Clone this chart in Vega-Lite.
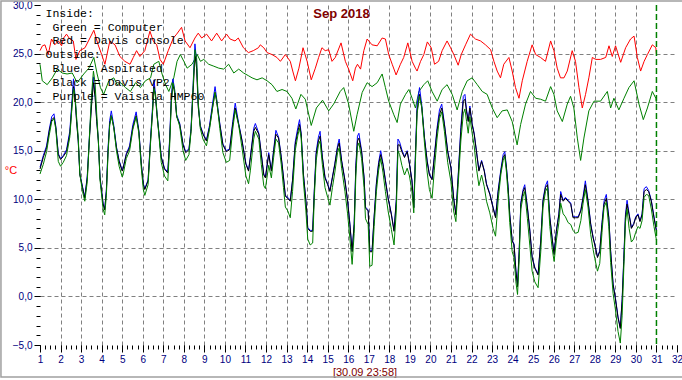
{
"$schema": "https://vega.github.io/schema/vega-lite/v6.json",
"width": 637, "height": 340,
"autosize": "none",
"padding": {"left": 40, "top": 5, "right": 5, "bottom": 35},
"background": "white",
"config": {"view": {"stroke": null}, "axis": {"labelFont": "Liberation Sans", "titleFont": "Liberation Sans"}},
"datasets": {
"out": [
{"d":1.00,"k":13.1,"b":13.3,"g":12.6},{"d":1.16,"k":14.3,"b":14.5,"g":13.6},{"d":1.32,"k":15.3,"b":15.5,"g":14.9},{"d":1.45,"k":17.0,"b":17.2,"g":16.6},{"d":1.57,"k":18.2,"b":18.5,"g":18.0},{"d":1.68,"k":18.4,"b":18.8,"g":18.3},{"d":1.77,"k":17.4,"b":17.5,"g":17.2},{"d":1.89,"k":14.6,"b":14.7,"g":13.9},{"d":2.00,"k":14.1,"b":14.2,"g":13.4},{"d":2.13,"k":14.4,"b":14.5,"g":13.8},{"d":2.29,"k":14.9,"b":15.1,"g":14.5},{"d":2.45,"k":16.7,"b":17.0,"g":16.4},{"d":2.55,"k":19.5,"b":20.0,"g":19.3},{"d":2.63,"k":21.6,"b":22.4,"g":21.4},{"d":2.70,"k":20.5,"b":20.8,"g":20.8},{"d":2.78,"k":18.0,"b":18.2,"g":18.5},{"d":2.86,"k":16.0,"b":16.1,"g":16.4},{"d":2.94,"k":12.5,"b":12.6,"g":12.6},
{"d":3.07,"k":11.2,"b":11.3,"g":10.8},{"d":3.18,"k":10.1,"b":10.2,"g":9.8},{"d":3.30,"k":12.2,"b":12.4,"g":11.8},{"d":3.40,"k":16.0,"b":16.3,"g":16.2},{"d":3.50,"k":19.4,"b":19.8,"g":20.5},{"d":3.60,"k":22.0,"b":22.6,"g":23.2},{"d":3.68,"k":20.5,"b":20.8,"g":22.0},{"d":3.76,"k":18.0,"b":18.2,"g":18.8},{"d":3.84,"k":16.0,"b":16.1,"g":16.0},{"d":3.92,"k":12.2,"b":12.3,"g":12.0},{"d":4.07,"k":9.5,"b":9.6,"g":9.0},{"d":4.15,"k":8.9,"b":9.0,"g":8.4},{"d":4.23,"k":10.8,"b":11.0,"g":10.4},{"d":4.31,"k":14.9,"b":15.2,"g":14.6},{"d":4.39,"k":17.7,"b":18.1,"g":17.6},{"d":4.47,"k":18.6,"b":19.1,"g":18.6},{"d":4.59,"k":17.4,"b":17.6,"g":17.4},{"d":4.72,"k":15.3,"b":15.4,"g":15.0},{"d":4.85,"k":13.9,"b":14.0,"g":13.4},
{"d":5.00,"k":12.9,"b":13.0,"g":12.3},{"d":5.04,"k":13.1,"b":13.2,"g":12.5},{"d":5.20,"k":14.6,"b":14.7,"g":14.2},{"d":5.36,"k":15.3,"b":15.5,"g":15.0},{"d":5.52,"k":17.4,"b":17.7,"g":17.2},{"d":5.68,"k":18.6,"b":19.0,"g":18.5},{"d":5.81,"k":17.0,"b":17.1,"g":16.8},{"d":5.93,"k":13.6,"b":13.7,"g":13.2},{"d":6.03,"k":11.5,"b":11.6,"g":11.0},{"d":6.10,"k":11.0,"b":11.1,"g":10.4},{"d":6.26,"k":11.9,"b":12.0,"g":11.5},{"d":6.38,"k":16.0,"b":16.3,"g":15.8},{"d":6.48,"k":19.1,"b":19.6,"g":19.2},{"d":6.55,"k":21.6,"b":22.3,"g":21.4},{"d":6.62,"k":20.5,"b":20.8,"g":20.8},{"d":6.70,"k":18.5,"b":18.7,"g":18.7},{"d":6.79,"k":16.7,"b":16.8,"g":16.5},{"d":6.90,"k":14.3,"b":14.4,"g":13.8},
{"d":7.06,"k":13.1,"b":13.2,"g":12.4},{"d":7.22,"k":12.7,"b":12.8,"g":11.9},{"d":7.31,"k":16.0,"b":16.3,"g":15.5},{"d":7.39,"k":20.1,"b":20.6,"g":20.0},{"d":7.47,"k":21.8,"b":22.4,"g":22.0},{"d":7.55,"k":21.0,"b":21.3,"g":21.3},{"d":7.65,"k":18.5,"b":18.7,"g":18.6},{"d":7.80,"k":17.7,"b":17.8,"g":17.5},{"d":7.96,"k":15.6,"b":15.7,"g":15.0},{"d":8.09,"k":14.8,"b":14.9,"g":14.0},{"d":8.25,"k":15.1,"b":15.2,"g":14.6},{"d":8.35,"k":17.0,"b":17.3,"g":17.0},{"d":8.45,"k":21.0,"b":21.7,"g":21.5},{"d":8.54,"k":24.8,"b":26.0,"g":25.4},{"d":8.62,"k":23.5,"b":24.2,"g":24.6},{"d":8.70,"k":19.5,"b":19.8,"g":20.0},{"d":8.80,"k":17.5,"b":17.6,"g":17.3},{"d":8.93,"k":16.7,"b":16.8,"g":16.2},
{"d":9.10,"k":16.0,"b":16.1,"g":15.5},{"d":9.25,"k":17.4,"b":17.6,"g":17.2},{"d":9.40,"k":19.5,"b":19.9,"g":19.4},{"d":9.52,"k":21.0,"b":21.6,"g":21.0},{"d":9.60,"k":20.0,"b":20.3,"g":20.2},{"d":9.75,"k":17.7,"b":17.8,"g":17.3},{"d":9.90,"k":15.6,"b":15.7,"g":14.8},{"d":10.07,"k":14.9,"b":15.0,"g":13.8},{"d":10.23,"k":15.1,"b":15.2,"g":14.0},{"d":10.38,"k":17.7,"b":18.0,"g":17.2},{"d":10.50,"k":19.4,"b":19.9,"g":19.2},{"d":10.67,"k":17.7,"b":17.8,"g":17.6},{"d":10.83,"k":16.0,"b":16.1,"g":15.3},
{"d":11.02,"k":13.6,"b":13.7,"g":12.4},{"d":11.15,"k":12.9,"b":13.0,"g":11.6},{"d":11.24,"k":14.3,"b":14.4,"g":13.0},{"d":11.40,"k":17.0,"b":17.3,"g":16.2},{"d":11.48,"k":17.4,"b":17.8,"g":17.0},{"d":11.65,"k":16.7,"b":16.8,"g":16.2},{"d":11.77,"k":14.6,"b":14.7,"g":13.6},{"d":11.89,"k":12.5,"b":12.6,"g":11.4},{"d":11.97,"k":12.2,"b":12.3,"g":11.1},{"d":12.13,"k":14.6,"b":14.8,"g":13.5},{"d":12.26,"k":12.9,"b":13.0,"g":12.2},{"d":12.37,"k":14.9,"b":15.1,"g":14.3},{"d":12.48,"k":16.7,"b":17.1,"g":16.2},{"d":12.61,"k":16.3,"b":16.4,"g":15.8},{"d":12.74,"k":14.3,"b":14.4,"g":13.6},{"d":12.85,"k":12.2,"b":12.3,"g":11.2},{"d":12.94,"k":10.3,"b":10.4,"g":9.2},
{"d":13.06,"k":10.1,"b":10.2,"g":8.8},{"d":13.18,"k":9.8,"b":9.9,"g":8.1},{"d":13.29,"k":11.9,"b":12.0,"g":10.8},{"d":13.42,"k":15.6,"b":15.9,"g":15.0},{"d":13.55,"k":17.0,"b":17.4,"g":16.6},{"d":13.63,"k":17.7,"b":18.2,"g":17.3},{"d":13.71,"k":16.7,"b":16.8,"g":16.3},{"d":13.82,"k":12.5,"b":12.6,"g":11.8},{"d":13.94,"k":9.8,"b":9.9,"g":8.8},{"d":14.03,"k":7.0,"b":7.1,"g":5.9},{"d":14.15,"k":6.7,"b":6.8,"g":5.3},{"d":14.27,"k":6.7,"b":6.8,"g":5.5},{"d":14.35,"k":10.8,"b":11.0,"g":10.2},{"d":14.44,"k":14.6,"b":14.9,"g":14.0},{"d":14.55,"k":16.0,"b":16.4,"g":15.6},{"d":14.63,"k":16.5,"b":17.0,"g":16.0},{"d":14.74,"k":14.3,"b":14.4,"g":13.6},{"d":14.87,"k":12.2,"b":12.3,"g":11.2},
{"d":15.00,"k":11.5,"b":11.6,"g":10.2},{"d":15.11,"k":10.8,"b":10.9,"g":9.4},{"d":15.23,"k":12.2,"b":12.3,"g":11.2},{"d":15.35,"k":13.6,"b":13.7,"g":12.8},{"d":15.48,"k":15.3,"b":15.5,"g":14.8},{"d":15.56,"k":15.8,"b":16.2,"g":15.3},{"d":15.68,"k":13.9,"b":14.0,"g":13.2},{"d":15.84,"k":11.9,"b":12.0,"g":10.8},{"d":15.97,"k":9.8,"b":9.9,"g":8.5},{"d":16.08,"k":7.4,"b":7.5,"g":6.0},{"d":16.19,"k":4.6,"b":4.7,"g":3.3},{"d":16.29,"k":7.4,"b":7.5,"g":6.5},{"d":16.37,"k":13.2,"b":13.5,"g":12.4},{"d":16.45,"k":16.0,"b":16.5,"g":15.4},{"d":16.52,"k":16.3,"b":16.8,"g":15.8},{"d":16.65,"k":14.9,"b":15.0,"g":14.2},{"d":16.77,"k":12.2,"b":12.3,"g":11.2},{"d":16.84,"k":9.1,"b":9.2,"g":8.0},{"d":16.97,"k":8.8,"b":8.9,"g":7.4},
{"d":17.05,"k":4.6,"b":4.7,"g":3.1},{"d":17.16,"k":4.6,"b":4.7,"g":3.2},{"d":17.26,"k":8.1,"b":8.2,"g":7.2},{"d":17.37,"k":11.5,"b":11.7,"g":10.8},{"d":17.48,"k":13.6,"b":13.8,"g":13.0},{"d":17.58,"k":14.6,"b":15.0,"g":14.2},{"d":17.69,"k":13.6,"b":13.7,"g":12.8},{"d":17.81,"k":11.9,"b":12.0,"g":10.8},{"d":17.94,"k":10.1,"b":10.2,"g":8.8},{"d":18.10,"k":8.4,"b":8.5,"g":6.9},{"d":18.23,"k":6.7,"b":6.8,"g":5.3},{"d":18.34,"k":9.8,"b":10.0,"g":8.8},{"d":18.42,"k":15.6,"b":16.2,"g":15.0},{"d":18.50,"k":15.6,"b":15.9,"g":14.6},{"d":18.61,"k":14.9,"b":15.1,"g":13.5},{"d":18.74,"k":14.3,"b":14.4,"g":12.5},{"d":18.87,"k":14.9,"b":15.0,"g":13.2},{"d":18.98,"k":13.6,"b":13.7,"g":12.4},
{"d":19.10,"k":11.9,"b":12.0,"g":10.8},{"d":19.19,"k":9.1,"b":9.2,"g":8.6},{"d":19.27,"k":14.3,"b":14.7,"g":13.8},{"d":19.35,"k":19.1,"b":19.7,"g":18.8},{"d":19.47,"k":20.8,"b":21.5,"g":20.6},{"d":19.58,"k":19.4,"b":19.7,"g":19.5},{"d":19.71,"k":16.3,"b":16.4,"g":15.8},{"d":19.84,"k":13.9,"b":14.0,"g":12.8},{"d":19.95,"k":12.5,"b":12.6,"g":11.0},{"d":20.08,"k":12.0,"b":12.1,"g":10.1},{"d":20.19,"k":14.3,"b":14.5,"g":13.0},{"d":20.32,"k":17.0,"b":17.3,"g":16.2},{"d":20.44,"k":18.7,"b":19.2,"g":18.3},{"d":20.55,"k":19.4,"b":19.8,"g":19.0},{"d":20.68,"k":17.7,"b":17.8,"g":17.0},{"d":20.84,"k":14.9,"b":15.0,"g":13.8},
{"d":21.00,"k":13.2,"b":13.3,"g":11.8},{"d":21.13,"k":10.1,"b":10.2,"g":8.8},{"d":21.24,"k":8.4,"b":8.5,"g":7.7},{"d":21.35,"k":12.2,"b":12.4,"g":11.5},{"d":21.48,"k":17.0,"b":17.4,"g":16.0},{"d":21.60,"k":20.1,"b":20.6,"g":18.8},{"d":21.68,"k":20.3,"b":20.8,"g":19.3},{"d":21.76,"k":19.0,"b":19.2,"g":18.0},{"d":21.84,"k":18.0,"b":18.1,"g":16.8},{"d":21.92,"k":19.4,"b":19.6,"g":18.5},{"d":22.03,"k":17.7,"b":17.8,"g":16.8},{"d":22.13,"k":16.7,"b":16.8,"g":15.5},{"d":22.24,"k":14.9,"b":15.0,"g":13.2},{"d":22.36,"k":12.9,"b":13.0,"g":11.4},{"d":22.49,"k":13.9,"b":14.0,"g":12.5},{"d":22.62,"k":12.9,"b":13.0,"g":11.3},{"d":22.73,"k":11.5,"b":11.6,"g":9.8},{"d":22.89,"k":10.5,"b":10.6,"g":8.6},
{"d":23.05,"k":9.1,"b":9.2,"g":7.0},{"d":23.17,"k":8.1,"b":8.2,"g":6.2},{"d":23.30,"k":10.8,"b":11.0,"g":10.0},{"d":23.43,"k":12.9,"b":13.1,"g":12.6},{"d":23.54,"k":14.3,"b":14.6,"g":14.0},{"d":23.62,"k":14.6,"b":14.9,"g":14.4},{"d":23.70,"k":13.2,"b":13.3,"g":12.8},{"d":23.78,"k":11.2,"b":11.3,"g":10.5},{"d":23.86,"k":8.4,"b":8.5,"g":7.6},{"d":23.98,"k":5.7,"b":5.8,"g":4.6},{"d":24.07,"k":5.3,"b":5.4,"g":4.0},{"d":24.16,"k":2.6,"b":2.7,"g":1.5},{"d":24.24,"k":1.0,"b":1.1,"g":0.2},{"d":24.32,"k":4.6,"b":4.8,"g":3.8},{"d":24.40,"k":9.5,"b":9.7,"g":9.0},{"d":24.51,"k":10.8,"b":11.0,"g":10.3},{"d":24.59,"k":11.2,"b":11.5,"g":10.8},{"d":24.72,"k":9.1,"b":9.2,"g":8.0},{"d":24.84,"k":6.7,"b":6.8,"g":5.2},{"d":24.95,"k":4.0,"b":4.1,"g":2.6},
{"d":25.08,"k":2.9,"b":3.0,"g":1.5},{"d":25.24,"k":2.2,"b":2.3,"g":0.9},{"d":25.37,"k":5.7,"b":5.8,"g":4.6},{"d":25.48,"k":9.8,"b":10.0,"g":9.2},{"d":25.60,"k":11.2,"b":11.4,"g":10.8},{"d":25.70,"k":11.5,"b":11.9,"g":11.2},{"d":25.81,"k":8.1,"b":8.2,"g":7.2},{"d":25.92,"k":6.0,"b":6.1,"g":5.0},{"d":26.02,"k":4.3,"b":4.4,"g":3.6},{"d":26.13,"k":6.7,"b":6.8,"g":5.8},{"d":26.25,"k":8.4,"b":8.5,"g":7.6},{"d":26.34,"k":10.5,"b":10.8,"g":9.6},{"d":26.46,"k":9.8,"b":9.9,"g":8.5},{"d":26.57,"k":10.1,"b":10.2,"g":8.2},{"d":26.70,"k":9.8,"b":9.9,"g":7.6},{"d":26.83,"k":9.5,"b":9.6,"g":7.4},{"d":26.94,"k":8.1,"b":8.2,"g":6.8},
{"d":27.06,"k":8.1,"b":8.2,"g":6.5},{"d":27.19,"k":8.1,"b":8.2,"g":6.6},{"d":27.32,"k":8.8,"b":8.9,"g":7.8},{"d":27.43,"k":10.1,"b":10.3,"g":9.6},{"d":27.54,"k":11.5,"b":11.9,"g":11.0},{"d":27.67,"k":9.8,"b":9.9,"g":9.2},{"d":27.80,"k":7.4,"b":7.5,"g":6.4},{"d":27.92,"k":6.0,"b":6.1,"g":4.8},{"d":28.00,"k":5.3,"b":5.4,"g":3.9},{"d":28.13,"k":4.0,"b":4.1,"g":2.6},{"d":28.24,"k":4.6,"b":4.7,"g":3.4},{"d":28.35,"k":7.4,"b":7.6,"g":6.6},{"d":28.45,"k":9.5,"b":9.8,"g":9.2},{"d":28.56,"k":10.1,"b":10.5,"g":9.7},{"d":28.68,"k":8.1,"b":8.2,"g":7.2},{"d":28.77,"k":4.6,"b":4.7,"g":3.5},{"d":28.89,"k":1.2,"b":1.3,"g":0.3},
{"d":29.00,"k":-0.2,"b":-0.1,"g":-1.3},{"d":29.13,"k":-2.2,"b":-2.1,"g":-3.6},{"d":29.24,"k":-3.3,"b":-3.2,"g":-4.8},{"d":29.33,"k":-0.5,"b":-0.3,"g":-2.0},{"d":29.41,"k":3.6,"b":3.9,"g":2.8},{"d":29.49,"k":8.1,"b":8.4,"g":7.6},{"d":29.57,"k":9.5,"b":9.9,"g":9.0},{"d":29.67,"k":8.4,"b":8.5,"g":7.0},{"d":29.78,"k":7.0,"b":7.1,"g":5.6},{"d":29.89,"k":7.4,"b":7.5,"g":5.9},{"d":29.99,"k":8.1,"b":8.2,"g":6.6},{"d":30.10,"k":8.4,"b":8.5,"g":7.2},{"d":30.20,"k":7.7,"b":7.8,"g":7.0},{"d":30.30,"k":8.4,"b":8.5,"g":7.8},{"d":30.40,"k":10.8,"b":11.1,"g":10.2},{"d":30.51,"k":11.0,"b":11.3,"g":10.5},{"d":30.62,"k":10.8,"b":10.9,"g":10.4},{"d":30.75,"k":9.8,"b":9.9,"g":9.0},{"d":30.88,"k":8.1,"b":8.2,"g":7.2},{"d":31.00,"k":6.7,"b":6.8,"g":5.8}
],
"red": [
{"d":1.00,"r":25.3},{"d":1.12,"r":25.8},{"d":1.24,"r":25.9},{"d":1.40,"r":24.9},{"d":1.56,"r":26.5},{"d":1.72,"r":25.9},{"d":1.89,"r":26.3},{"d":2.05,"r":25.8},{"d":2.15,"r":26.6},{"d":2.29,"r":27.0},{"d":2.45,"r":26.5},{"d":2.62,"r":26.3},{"d":2.75,"r":24.4},{"d":2.94,"r":25.3},{"d":3.19,"r":25.6},{"d":3.43,"r":26.6},{"d":3.62,"r":27.4},{"d":3.83,"r":25.9},{"d":4.00,"r":24.9},{"d":4.16,"r":23.9},{"d":4.40,"r":26.3},{"d":4.65,"r":25.9},{"d":4.89,"r":24.7},{"d":5.13,"r":24.2},{"d":5.38,"r":23.9},{"d":5.54,"r":24.6},{"d":5.70,"r":25.3},{"d":5.86,"r":24.7},{"d":6.10,"r":25.3},{"d":6.35,"r":27.3},{"d":6.51,"r":26.3},{"d":6.68,"r":25.9},{"d":6.84,"r":24.4},{"d":7.00,"r":23.9},{"d":7.24,"r":25.3},{"d":7.49,"r":26.6},{"d":7.65,"r":27.0},{"d":7.89,"r":27.7},{"d":8.06,"r":26.3},{"d":8.30,"r":25.6},{"d":8.54,"r":26.6},{"d":8.70,"r":27.1},{"d":8.87,"r":26.6},{"d":9.11,"r":27.0},{"d":9.35,"r":26.3},{"d":9.60,"r":27.1},{"d":9.84,"r":26.3},{"d":10.08,"r":27.0},{"d":10.25,"r":26.5},{"d":10.49,"r":26.3},{"d":10.65,"r":26.6},{"d":10.90,"r":25.6},{"d":11.14,"r":25.1},{"d":11.38,"r":25.3},{"d":11.63,"r":25.6},{"d":11.72,"r":25.9},{"d":11.89,"r":25.6},{"d":12.05,"r":25.1},{"d":12.29,"r":24.9},{"d":12.53,"r":24.6},{"d":12.70,"r":24.2},{"d":12.94,"r":24.9},{"d":13.18,"r":24.2},{"d":13.30,"r":23.2},{"d":13.43,"r":22.2},{"d":13.60,"r":23.5},{"d":13.80,"r":25.6},{"d":14.00,"r":24.2},{"d":14.20,"r":22.3},{"d":14.40,"r":23.5},{"d":14.56,"r":24.6},{"d":14.72,"r":25.6},{"d":14.88,"r":25.3},{"d":15.05,"r":25.4},{"d":15.21,"r":24.2},{"d":15.37,"r":24.6},{"d":15.65,"r":26.1},{"d":15.86,"r":24.2},{"d":16.02,"r":23.4},{"d":16.22,"r":22.2},{"d":16.35,"r":23.5},{"d":16.45,"r":23.9},{"d":16.60,"r":23.4},{"d":16.76,"r":25.3},{"d":16.92,"r":26.5},{"d":17.16,"r":25.9},{"d":17.41,"r":25.8},{"d":17.65,"r":26.6},{"d":17.81,"r":26.5},{"d":17.97,"r":24.9},{"d":18.14,"r":23.9},{"d":18.33,"r":22.8},{"d":18.54,"r":23.9},{"d":18.70,"r":24.6},{"d":18.90,"r":26.1},{"d":19.11,"r":24.2},{"d":19.27,"r":23.5},{"d":19.35,"r":23.2},{"d":19.52,"r":24.2},{"d":19.68,"r":24.9},{"d":19.85,"r":26.2},{"d":20.04,"r":25.6},{"d":20.20,"r":23.9},{"d":20.40,"r":24.2},{"d":20.57,"r":25.3},{"d":20.81,"r":26.3},{"d":20.98,"r":25.6},{"d":21.14,"r":24.9},{"d":21.35,"r":23.8},{"d":21.50,"r":24.9},{"d":21.71,"r":25.9},{"d":21.95,"r":27.0},{"d":22.19,"r":26.5},{"d":22.44,"r":26.3},{"d":22.68,"r":25.9},{"d":22.93,"r":25.4},{"d":23.09,"r":24.2},{"d":23.25,"r":23.2},{"d":23.41,"r":22.5},{"d":23.57,"r":23.9},{"d":23.82,"r":24.6},{"d":23.98,"r":23.2},{"d":24.14,"r":21.5},{"d":24.31,"r":20.4},{"d":24.47,"r":22.2},{"d":24.71,"r":24.2},{"d":24.95,"r":25.9},{"d":25.12,"r":24.9},{"d":25.36,"r":24.6},{"d":25.60,"r":24.2},{"d":25.85,"r":26.3},{"d":26.01,"r":25.3},{"d":26.17,"r":23.5},{"d":26.33,"r":22.5},{"d":26.50,"r":22.5},{"d":26.66,"r":23.2},{"d":26.90,"r":25.3},{"d":27.06,"r":24.2},{"d":27.23,"r":21.5},{"d":27.39,"r":19.4},{"d":27.55,"r":20.8},{"d":27.71,"r":22.5},{"d":27.88,"r":24.6},{"d":28.04,"r":24.4},{"d":28.28,"r":24.4},{"d":28.53,"r":24.6},{"d":28.69,"r":25.8},{"d":28.85,"r":24.7},{"d":29.01,"r":25.8},{"d":29.26,"r":24.1},{"d":29.50,"r":25.6},{"d":29.74,"r":26.5},{"d":29.91,"r":26.8},{"d":30.07,"r":24.6},{"d":30.23,"r":23.2},{"d":30.40,"r":24.2},{"d":30.56,"r":24.9},{"d":30.80,"r":25.9},{"d":30.97,"r":25.6},{"d":31.00,"r":24.9}
],
"ing": [
{"d":1.00,"c":23.9},{"d":1.11,"c":22.2},{"d":1.35,"c":21.8},{"d":1.60,"c":22.5},{"d":1.84,"c":23.4},{"d":2.08,"c":23.0},{"d":2.32,"c":22.9},{"d":2.57,"c":23.0},{"d":2.81,"c":22.0},{"d":3.13,"c":22.9},{"d":3.38,"c":23.5},{"d":3.62,"c":24.6},{"d":3.78,"c":22.9},{"d":3.94,"c":21.5},{"d":4.10,"c":20.8},{"d":4.35,"c":22.2},{"d":4.59,"c":22.5},{"d":4.76,"c":21.8},{"d":4.92,"c":22.0},{"d":5.16,"c":21.5},{"d":5.40,"c":21.1},{"d":5.65,"c":22.0},{"d":5.89,"c":21.5},{"d":6.13,"c":22.2},{"d":6.38,"c":22.5},{"d":6.54,"c":23.9},{"d":6.78,"c":24.2},{"d":6.94,"c":22.9},{"d":7.11,"c":21.8},{"d":7.27,"c":21.1},{"d":7.51,"c":22.5},{"d":7.67,"c":24.2},{"d":7.83,"c":24.9},{"d":8.00,"c":24.2},{"d":8.16,"c":23.5},{"d":8.40,"c":23.9},{"d":8.65,"c":24.9},{"d":8.81,"c":24.2},{"d":8.97,"c":24.4},{"d":9.21,"c":23.9},{"d":9.46,"c":23.7},{"d":9.70,"c":23.5},{"d":9.94,"c":23.4},{"d":10.18,"c":23.9},{"d":10.43,"c":23.0},{"d":10.67,"c":23.4},{"d":10.91,"c":23.0},{"d":11.16,"c":22.7},{"d":11.32,"c":22.5},{"d":11.56,"c":22.3},{"d":11.81,"c":22.5},{"d":12.05,"c":22.2},{"d":12.29,"c":21.8},{"d":12.53,"c":21.1},{"d":12.78,"c":21.3},{"d":13.02,"c":21.1},{"d":13.26,"c":20.4},{"d":13.45,"c":19.3},{"d":13.70,"c":20.8},{"d":13.91,"c":20.3},{"d":14.20,"c":17.6},{"d":14.45,"c":19.4},{"d":14.75,"c":20.2},{"d":15.05,"c":19.1},{"d":15.29,"c":19.8},{"d":15.61,"c":21.1},{"d":15.78,"c":21.5},{"d":16.02,"c":19.8},{"d":16.27,"c":17.0},{"d":16.43,"c":18.7},{"d":16.68,"c":21.0},{"d":16.92,"c":22.0},{"d":17.16,"c":21.6},{"d":17.41,"c":22.0},{"d":17.65,"c":22.9},{"d":17.81,"c":21.5},{"d":17.97,"c":20.1},{"d":18.22,"c":18.7},{"d":18.38,"c":17.9},{"d":18.54,"c":19.8},{"d":18.79,"c":20.8},{"d":18.95,"c":21.3},{"d":19.11,"c":20.4},{"d":19.27,"c":19.4},{"d":19.44,"c":21.1},{"d":19.68,"c":21.8},{"d":19.87,"c":22.2},{"d":20.08,"c":21.1},{"d":20.33,"c":20.1},{"d":20.57,"c":21.3},{"d":20.81,"c":21.8},{"d":21.06,"c":20.8},{"d":21.30,"c":19.2},{"d":21.55,"c":21.1},{"d":21.79,"c":22.2},{"d":22.03,"c":22.5},{"d":22.28,"c":21.8},{"d":22.52,"c":21.1},{"d":22.76,"c":20.8},{"d":23.01,"c":19.4},{"d":23.25,"c":18.4},{"d":23.49,"c":19.1},{"d":23.74,"c":19.2},{"d":23.98,"c":18.0},{"d":24.22,"c":15.6},{"d":24.39,"c":17.7},{"d":24.63,"c":19.8},{"d":24.87,"c":21.1},{"d":25.12,"c":20.4},{"d":25.36,"c":20.3},{"d":25.60,"c":20.1},{"d":25.85,"c":21.6},{"d":26.01,"c":20.8},{"d":26.17,"c":19.1},{"d":26.42,"c":18.0},{"d":26.66,"c":19.8},{"d":26.82,"c":20.6},{"d":26.98,"c":19.4},{"d":27.15,"c":16.3},{"d":27.31,"c":14.0},{"d":27.47,"c":16.3},{"d":27.71,"c":19.1},{"d":27.96,"c":20.1},{"d":28.28,"c":20.1},{"d":28.61,"c":21.1},{"d":28.77,"c":19.4},{"d":28.93,"c":20.4},{"d":29.17,"c":19.2},{"d":29.42,"c":20.4},{"d":29.66,"c":21.5},{"d":29.91,"c":22.2},{"d":30.15,"c":19.8},{"d":30.36,"c":18.2},{"d":30.56,"c":19.4},{"d":30.80,"c":21.1},{"d":30.97,"c":20.4},{"d":31.00,"c":19.9}
]
},
"layer": [
{
"data": {"values": [{}]},
"mark": {"type": "rect", "fill": null, "stroke": "#a0a0a0", "strokeWidth": 1.5},
"encoding": {
"x": {"datum": -0.9, "type": "quantitative", "scale": {"domain": [1, 32], "nice": false, "zero": false}, "axis": null},
"x2": {"datum": 32.3},
"y": {"datum": 30.41, "type": "quantitative", "scale": {"domain": [-5, 30], "nice": false, "zero": false}, "axis": null},
"y2": {"datum": -8.3}
}
},
{
"data": {"name": "red"},
"mark": {"type": "line", "color": "#ff0000", "strokeWidth": 1},
"encoding": {
"x": {"field": "d", "type": "quantitative", "scale": {"domain": [1, 32], "nice": false, "zero": false},
 "axis": {"orient": "bottom", "values": [2,3,4,5,6,7,8,9,10,11,12,13,14,15,16,17,18,19,20,21,22,23,24,25,26,27,28,29,30], "grid": true, "gridColor": "#808080", "gridDash": [4, 3], "gridWidth": 1, "ticks": false, "labels": false, "domain": false, "title": null}},
"y": {"field": "r", "type": "quantitative", "scale": {"domain": [-5, 30], "nice": false, "zero": false},
 "axis": {"orient": "left", "values": [0, 5, 10, 15, 20, 25], "grid": true, "gridColor": "#808080", "gridDash": [4, 3], "gridWidth": 1, "ticks": false, "labels": false, "domain": false, "title": null}}
}
},
{
"data": {"name": "ing"},
"mark": {"type": "line", "color": "#008000", "strokeWidth": 1},
"encoding": {
"x": {"field": "d", "type": "quantitative", "scale": {"domain": [1, 32], "nice": false, "zero": false},
 "axis": {"orient": "bottom", "values": [1,1.25,1.5,1.75,2,2.25,2.5,2.75,3,3.25,3.5,3.75,4,4.25,4.5,4.75,5,5.25,5.5,5.75,6,6.25,6.5,6.75,7,7.25,7.5,7.75,8,8.25,8.5,8.75,9,9.25,9.5,9.75,10,10.25,10.5,10.75,11,11.25,11.5,11.75,12,12.25,12.5,12.75,13,13.25,13.5,13.75,14,14.25,14.5,14.75,15,15.25,15.5,15.75,16,16.25,16.5,16.75,17,17.25,17.5,17.75,18,18.25,18.5,18.75,19,19.25,19.5,19.75,20,20.25,20.5,20.75,21,21.25,21.5,21.75,22,22.25,22.5,22.75,23,23.25,23.5,23.75,24,24.25,24.5,24.75,25,25.25,25.5,25.75,26,26.25,26.5,26.75,27,27.25,27.5,27.75,28,28.25,28.5,28.75,29,29.25,29.5,29.75,30,30.25,30.5,30.75,31,31.25,31.5,31.75,32], "grid": false, "ticks": true, "tickSize": 4, "tickColor": "#000000", "labels": false, "domain": false, "title": null}},
"y": {"field": "c", "type": "quantitative", "scale": {"domain": [-5, 30], "nice": false, "zero": false},
 "axis": {"orient": "left", "values": [-5,-4,-3,-2,-1,0,1,2,3,4,5,6,7,8,9,10,11,12,13,14,15,16,17,18,19,20,21,22,23,24,25,26,27,28,29,30], "grid": false, "ticks": true, "tickSize": 4, "tickColor": "#000000", "labels": false, "domain": false, "title": null}}
}
},
{
"data": {"name": "out"},
"mark": {"type": "line", "color": "#0000ff", "strokeWidth": 1},
"encoding": {
"x": {"field": "d", "type": "quantitative", "scale": {"domain": [1, 32], "nice": false, "zero": false},
 "axis": {"orient": "bottom", "values": [1,2,3,4,5,6,7,8,9,10,11,12,13,14,15,16,17,18,19,20,21,22,23,24,25,26,27,28,29,30,31,32], "grid": false, "ticks": true, "tickSize": 7, "tickColor": "#000000", "labels": true, "labelColor": "#000080", "labelFontSize": 10, "labelPadding": 2, "labelFlush": false, "labelOverlap": false, "domain": false,
 "title": "[30.09 23:58]", "titleColor": "#800000", "titleFontSize": 11, "titleFontWeight": "normal", "titleX": 324.5, "titleY": 30, "titleAlign": "center", "titleBaseline": "alphabetic"}},
"y": {"field": "b", "type": "quantitative", "scale": {"domain": [-5, 30], "nice": false, "zero": false},
 "axis": {"orient": "left", "values": [-5, 0, 5, 10, 15, 20, 25, 30], "labelExpr": "replace(format(datum.value, '.1f'), '.', ',')", "grid": false, "ticks": true, "tickSize": 6, "tickColor": "#000000", "labels": true, "labelColor": "#000080", "labelFontSize": 10, "labelPadding": 2, "labelFlush": false, "labelOverlap": false, "domain": false,
 "title": "°C", "titleColor": "#ff0000", "titleFontSize": 11, "titleFontWeight": "normal", "titleAngle": 0, "titleX": -29.5, "titleY": 165, "titleAlign": "center", "titleBaseline": "middle"}}
}
},
{
"data": {"name": "out"},
"mark": {"type": "line", "color": "#000000", "strokeWidth": 1},
"encoding": {
"x": {"field": "d", "type": "quantitative", "scale": {"domain": [1, 32], "nice": false, "zero": false}, "axis": null},
"y": {"field": "k", "type": "quantitative", "scale": {"domain": [-5, 30], "nice": false, "zero": false}, "axis": null}
}
},
{
"data": {"name": "out"},
"mark": {"type": "line", "color": "#008000", "strokeWidth": 1},
"encoding": {
"x": {"field": "d", "type": "quantitative", "scale": {"domain": [1, 32], "nice": false, "zero": false}, "axis": null},
"y": {"field": "g", "type": "quantitative", "scale": {"domain": [-5, 30], "nice": false, "zero": false}, "axis": null}
}
},
{
"data": {"values": [{}]},
"mark": {"type": "rule", "color": "#008000", "strokeWidth": 1.5, "strokeDash": [6, 3]},
"encoding": {
"x": {"datum": 31, "type": "quantitative", "scale": {"domain": [1, 32], "nice": false, "zero": false}, "axis": null}
}
},
{
"data": {"values": [{}]},
"mark": {"type": "text", "text": "Inside:", "align": "left", "baseline": "alphabetic", "font": "Liberation Mono", "fontSize": 11.5, "color": "#000000"},
"encoding": {
"x": {"datum": 1.27, "type": "quantitative", "scale": {"domain": [1, 32], "nice": false, "zero": false}, "axis": null},
"y": {"datum": 28.8, "type": "quantitative", "scale": {"domain": [-5, 30], "nice": false, "zero": false}, "axis": null}
}
},
{
"data": {"values": [{}]},
"mark": {"type": "text", "text": "Outside:", "align": "left", "baseline": "alphabetic", "font": "Liberation Mono", "fontSize": 11.5, "color": "#000000"},
"encoding": {
"x": {"datum": 1.27, "type": "quantitative", "scale": {"domain": [1, 32], "nice": false, "zero": false}, "axis": null},
"y": {"datum": 24.51, "type": "quantitative", "scale": {"domain": [-5, 30], "nice": false, "zero": false}, "axis": null}
}
},
{
"data": {"values": [{}]},
"mark": {"type": "text", "text": ["Green = Computer", "Red = Davis console"], "align": "left", "baseline": "alphabetic", "font": "Liberation Mono", "fontSize": 11.5, "lineHeight": 13.9, "color": "#000000"},
"encoding": {
"x": {"datum": 1.606, "type": "quantitative", "scale": {"domain": [1, 32], "nice": false, "zero": false}, "axis": null},
"y": {"datum": 27.37, "type": "quantitative", "scale": {"domain": [-5, 30], "nice": false, "zero": false}, "axis": null}
}
},
{
"data": {"values": [{}]},
"mark": {"type": "text", "text": ["Blue = Aspirated", "Black = Davis VP2", "Purple = Vaisala HMP60"], "align": "left", "baseline": "alphabetic", "font": "Liberation Mono", "fontSize": 11.5, "lineHeight": 13.9, "color": "#000000"},
"encoding": {
"x": {"datum": 1.606, "type": "quantitative", "scale": {"domain": [1, 32], "nice": false, "zero": false}, "axis": null},
"y": {"datum": 23.08, "type": "quantitative", "scale": {"domain": [-5, 30], "nice": false, "zero": false}, "axis": null}
}
},
{
"data": {"values": [{}]},
"mark": {"type": "text", "text": "Sep 2018", "align": "center", "baseline": "alphabetic", "font": "Liberation Sans", "fontSize": 13, "fontWeight": "bold", "color": "#800000"},
"encoding": {
"x": {"datum": 15.67, "type": "quantitative", "scale": {"domain": [1, 32], "nice": false, "zero": false}, "axis": null},
"y": {"datum": 28.71, "type": "quantitative", "scale": {"domain": [-5, 30], "nice": false, "zero": false}, "axis": null}
}
}
],
"resolve": {"axis": {"x": "independent", "y": "independent"}}
}
